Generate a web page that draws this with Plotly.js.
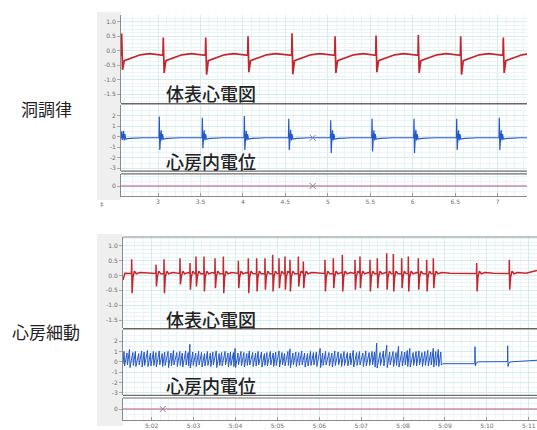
<!DOCTYPE html>
<html><head><meta charset="utf-8">
<script src="https://cdn.plot.ly/plotly-3.0.1.min.js"></script>
<style>html,body{margin:0;padding:0;background:#fff}#chart{width:537px;height:430px}</style>
</head><body><div id="chart"></div>
<script>
// ---------- Sinus rhythm (洞調律) ----------
const sinusTickVals = [3, 3.5, 4, 4.5, 5, 5.5, 6, 6.5, 7];
const sinusTickText = ['3', '3.5', '4', '4.5', '5', '5.5', '6', '6.5', '7'];
const sinusEcgTimes   = [2.572, 3.062, 3.562, 4.060, 4.578, 5.085, 5.568, 6.066, 6.565, 7.067];
const sinusEcgPeaks   = [0.60, 0.46, 0.46, 0.50, 0.61, 0.50, 0.53, 0.55, 0.50, 0.46];
const sinusEcgTroughs = [-0.66, -0.77, -0.83, -0.74, -0.81, -0.77, -0.74, -0.77, -0.83, -0.77];
const sinusIntraTimes   = [2.572, 3.015, 3.522, 4.017, 4.540, 5.034, 5.521, 6.015, 6.518, 7.020];
const sinusIntraPeaks   = [0.50, 1.90, 1.80, 1.95, 1.70, 1.55, 1.70, 1.70, 1.70, 1.80];
const sinusIntraTroughs = [-0.30, -1.25, -1.10, -1.25, -1.25, -1.55, -1.40, -1.55, -1.25, -1.25];
const sinusIntraSecond  = [0.55, 0.60, 0.60, 0.55, 0.65, 0.60, 0.60, 0.65, 0.60, 0.60];
const sinusMarkerX = [4.822];

// ---------- Atrial fibrillation (心房細動) ----------
const afTickVals = [302, 303, 304, 305, 306, 307, 308, 309, 310, 311];
const afTickText = ['5:02', '5:03', '5:04', '5:05', '5:06', '5:07', '5:08', '5:09', '5:10', '5:11'];
const afEcgTimes = [301.522, 302.103, 302.294, 302.675, 302.914, 303.057, 303.248, 303.511, 303.710,
  304.068, 304.306, 304.505, 304.704, 304.887, 305.038, 305.181, 305.301, 305.500, 305.619,
  306.136, 306.335, 306.550, 306.852, 306.971, 307.210, 307.385, 307.608, 307.767, 307.966,
  308.125, 308.363, 308.563, 308.722, 309.756, 310.535];
const afEcgPeaks = [0.55, 0.36, 0.55, 0.58, 0.42, 0.64, 0.64, 0.58, 0.64,
  0.50, 0.58, 0.58, 0.58, 0.70, 0.58, 0.64, 0.53, 0.64, 0.47,
  0.53, 0.58, 0.70, 0.53, 0.64, 0.53, 0.58, 0.75, 0.73, 0.58,
  0.64, 0.58, 0.53, 0.58, 0.42, 0.53];
const afEcgTroughs = [-0.60, -0.37, -0.60, -0.30, -0.48, -0.37, -0.54, -0.43, -0.60,
  -0.43, -0.60, -0.54, -0.48, -0.54, -0.43, -0.48, -0.54, -0.37, -0.43,
  -0.54, -0.43, -0.54, -0.48, -0.43, -0.54, -0.43, -0.48, -0.54, -0.43,
  -0.54, -0.48, -0.54, -0.43, -0.54, -0.48];
const afIntraTimes = [301.34, 301.41, 301.47, 301.55, 301.61, 301.69, 301.76, 301.82, 301.90, 301.97,
  302.04, 302.10, 302.18, 302.25, 302.31, 302.39, 302.46, 302.52, 302.60, 302.67,
  302.73, 302.81, 302.87, 302.91, 302.98, 303.05, 303.12, 303.19, 303.26, 303.33,
  303.40, 303.46, 303.54, 303.61, 303.67, 303.75, 303.82, 303.88, 303.95, 303.99,
  304.06, 304.13, 304.20, 304.27, 304.33, 304.41, 304.48, 304.54, 304.62, 304.69,
  304.75, 304.83, 304.90, 304.96, 305.04, 305.11, 305.17, 305.25, 305.30, 305.37,
  305.44, 305.51, 305.58, 305.65, 305.72, 305.79, 305.86, 305.93, 306.02, 306.08,
  306.15, 306.23, 306.30, 306.37, 306.45, 306.52, 306.59, 306.67, 306.74, 306.81,
  306.89, 306.96, 307.04, 307.11, 307.19, 307.26, 307.32, 307.37, 307.45, 307.53,
  307.61, 307.68, 307.76, 307.83, 307.89, 307.97, 308.04, 308.10, 308.16, 308.24,
  308.31, 308.38, 308.45, 308.52, 308.59, 308.66, 308.72, 308.78, 308.84, 308.90];
const afIntraTops = [1.00, 0.85, 1.20, 0.90, 1.00, 0.80, 1.05, 0.95, 1.10, 0.85,
  1.00, 0.90, 1.05, 0.80, 0.95, 1.00, 0.85, 1.10, 0.90, 1.00,
  0.85, 1.05, 0.90, 1.70, 0.95, 0.85, 1.00, 0.90, 0.80, 1.00,
  0.85, 0.95, 1.05, 0.80, 0.90, 1.00, 0.85, 0.95, 0.90, 1.30,
  0.85, 1.00, 0.90, 0.80, 1.05, 0.90, 0.85, 1.00, 0.95, 0.80,
  0.90, 1.00, 0.85, 0.95, 1.05, 0.90, 0.80, 1.00, 1.25, 0.85,
  0.95, 0.90, 1.05, 0.85, 0.80, 1.00, 0.90, 0.95, 1.30, 0.85,
  1.00, 0.90, 0.85, 1.05, 0.95, 0.80, 1.00, 0.90, 0.85, 1.10,
  0.90, 1.00, 0.85, 1.05, 0.90, 1.00, 0.95, 1.80, 0.90, 1.05,
  1.60, 0.95, 1.00, 0.90, 1.50, 1.00, 0.95, 1.10, 1.30, 0.90,
  1.00, 1.05, 0.90, 1.00, 1.10, 0.95, 1.30, 1.00, 1.20, 0.95];
const afIntraBottoms = [-0.40, -0.30, -0.55, -0.35, -0.45, -0.30, -0.50, -0.35, -0.45, -0.40,
  -0.35, -0.50, -0.30, -0.45, -0.35, -0.55, -0.40, -0.30, -0.45, -0.35,
  -0.50, -0.30, -0.40, -0.60, -0.35, -0.45, -0.30, -0.50, -0.40, -0.35,
  -0.45, -0.30, -0.55, -0.35, -0.40, -0.30, -0.50, -0.35, -0.45, -0.55,
  -0.30, -0.40, -0.50, -0.35, -0.30, -0.45, -0.40, -0.30, -0.50, -0.35,
  -0.40, -0.30, -0.45, -0.35, -0.50, -0.30, -0.40, -0.35, -0.55, -0.30,
  -0.45, -0.35, -0.30, -0.50, -0.40, -0.35, -0.30, -0.45, -0.55, -0.35,
  -0.30, -0.40, -0.50, -0.35, -0.30, -0.45, -0.35, -0.40, -0.30, -0.50,
  -0.35, -0.30, -0.45, -0.40, -0.35, -0.30, -0.50, -0.60, -0.35, -0.40,
  -0.55, -0.30, -0.45, -0.35, -0.50, -0.40, -0.30, -0.45, -0.50, -0.35,
  -0.40, -0.30, -0.45, -0.35, -0.40, -0.30, -0.50, -0.35, -0.45, -0.30];
const afIsolatedTimes = [309.716, 310.496];
const afIsolatedPeaks = [1.45, 1.55];
const afIsolatedTroughs = [-0.40, -0.45];
const afMarkerX = [302.263];

// ---------- layout helpers (pixel placement) ----------
const W = 537, H = 430;
const px = v => v / W;
const py = v => 1 - v / H;
const sinusRange = [2.564, 7.346];
const afRange = [301.315, 311.196];

// ---------- build traces ----------
function sinusEcg() {
  const x = [sinusRange[0]], y = [-0.16];
  sinusEcgTimes.forEach((t, i) => {
    const next = i + 1 < sinusEcgTimes.length ? sinusEcgTimes[i + 1] : sinusRange[1] + 0.5;
    if (t - 0.004 > x[x.length - 1]) { x.push(t - 0.004); y.push(-0.16); }
    x.push(t); y.push(sinusEcgPeaks[i]);
    x.push(t + 0.010); y.push(sinusEcgTroughs[i]);
    [[0.03, -0.34], [0.10, -0.26], [0.22, -0.14], [0.33, -0.1], [0.45, -0.15]].forEach(([dt, v]) => {
      if (t + dt < next - 0.01) { x.push(t + dt); y.push(v); }
    });
  });
  return { x, y };
}
function sinusIntra() {
  const x = [sinusRange[0]], y = [-0.1];
  sinusIntraTimes.forEach((t, i) => {
    if (t - 0.004 > x[x.length - 1]) { x.push(t - 0.004); y.push(-0.1); }
    x.push(t); y.push(sinusIntraPeaks[i]);
    x.push(t + 0.006); y.push(sinusIntraTroughs[i]);
    x.push(t + 0.014); y.push(-0.1);
    x.push(t + 0.022); y.push(sinusIntraSecond[i]);
    x.push(t + 0.030); y.push(-0.35);
    x.push(t + 0.038); y.push(0.25);
    x.push(t + 0.048); y.push(-0.22);
    x.push(t + 0.09); y.push(-0.16);
    x.push(t + 0.25); y.push(-0.1);
  });
  x.push(sinusRange[1]); y.push(-0.1);
  return { x, y };
}
function afEcg() {
  const x = [afRange[0]], y = [-0.15];
  x.push(301.36); y.push(0.08);
  afEcgTimes.forEach((t, i) => {
    const next = i + 1 < afEcgTimes.length ? afEcgTimes[i + 1] : afRange[1] + 0.5;
    if (t - 0.004 > x[x.length - 1]) { x.push(t - 0.004); y.push(0.07); }
    x.push(t); y.push(afEcgPeaks[i]);
    x.push(t + 0.010); y.push(afEcgTroughs[i]);
    [[0.03, -0.06], [0.065, 0.15], [0.11, 0.06], [0.2, 0.1], [0.4, 0.08]].forEach(([dt, v]) => {
      if (t + dt < next - 0.01) { x.push(t + dt); y.push(v); }
    });
  });
  x.push(afRange[1]); y.push(0.17);
  return { x, y };
}
function afIntra() {
  const x = [afRange[0]], y = [-0.2];
  afIntraTimes.forEach((t, i) => {
    x.push(t); y.push(afIntraTops[i]);
    x.push(t + 0.012); y.push(afIntraBottoms[i]);
  });
  x.push(308.95); y.push(-0.18);
  afIsolatedTimes.forEach((t, i) => {
    x.push(t - 0.004); y.push(i === 0 ? -0.18 : 0.02);
    x.push(t); y.push(afIsolatedPeaks[i]);
    x.push(t + 0.008); y.push(afIsolatedTroughs[i]);
    x.push(t + 0.03); y.push(-0.1);
    x.push(t + 0.08); y.push(0.0);
  });
  x.push(afRange[1]); y.push(0.15);
  return { x, y };
}

const red = '#c3262c', blue = '#2457c8', pink = '#b85585', mk = '#8c7f9c';
const s1 = sinusEcg(), s2 = sinusIntra(), a1 = afEcg(), a2 = afIntra();
const data = [
  { x: s1.x, y: s1.y, xaxis: 'x', yaxis: 'y', mode: 'lines', line: { color: red, width: 1.7 }, hoverinfo: 'skip' },
  { x: s2.x, y: s2.y, xaxis: 'x', yaxis: 'y2', mode: 'lines', line: { color: blue, width: 1.2 }, hoverinfo: 'skip' },
  { x: sinusRange, y: [0, 0], xaxis: 'x', yaxis: 'y3', mode: 'lines', line: { color: pink, width: 1 }, hoverinfo: 'skip' },
  { x: sinusMarkerX, y: [-0.1], xaxis: 'x', yaxis: 'y2', mode: 'markers', marker: { symbol: 'x-thin', size: 6, line: { color: mk, width: 1 } } },
  { x: sinusMarkerX, y: [0], xaxis: 'x', yaxis: 'y3', mode: 'markers', marker: { symbol: 'x-thin', size: 6, line: { color: mk, width: 1 } } },
  { x: a1.x, y: a1.y, xaxis: 'x2', yaxis: 'y4', mode: 'lines', line: { color: red, width: 1.5 }, hoverinfo: 'skip' },
  { x: a2.x, y: a2.y, xaxis: 'x2', yaxis: 'y5', mode: 'lines', line: { color: blue, width: 1 }, hoverinfo: 'skip' },
  { x: afRange, y: [0, 0], xaxis: 'x2', yaxis: 'y6', mode: 'lines', line: { color: pink, width: 1 }, hoverinfo: 'skip' },
  { x: afMarkerX, y: [0], xaxis: 'x2', yaxis: 'y6', mode: 'markers', marker: { symbol: 'x-thin', size: 6, line: { color: mk, width: 1 } } }
];

const gridMajor = '#d8ecf0', gridMinor = '#eaf5f7';
const tickFont = { family: 'DejaVu Sans, sans-serif', size: 6, color: '#6e6e6e' };
function yax(dom, range, vals, text, minorDt, anchor) {
  return {
    domain: [py(dom[1]), py(dom[0])], range, anchor, tickvals: vals, ticktext: text,
    tickfont: tickFont, ticks: 'outside', ticklen: 3, tickcolor: '#aaa',
    showgrid: true, gridcolor: gridMajor, gridwidth: 1, zeroline: false,
    minor: { dtick: minorDt, showgrid: true, gridcolor: gridMinor, ticks: '' },
    showline: true, linecolor: '#8a8a8a', linewidth: 1, fixedrange: true
  };
}
function xax(dom, range, vals, text, minorDt, anchor) {
  return {
    domain: [px(dom[0]), px(dom[1])], range, anchor, tickvals: vals, ticktext: text,
    tickfont: tickFont, ticks: 'inside', ticklen: 3, tickcolor: '#999',
    showgrid: true, gridcolor: gridMajor, zeroline: false,
    minor: { dtick: minorDt, showgrid: true, gridcolor: gridMinor, ticks: '' },
    showline: true, linecolor: '#8a8a8a', linewidth: 1, fixedrange: true
  };
}

const cjk = 'Noto Sans CJK JP, sans-serif';
function ann(text, x, y, size, weight) {
  return { text, x: px(x), y: py(y), xref: 'paper', yref: 'paper', showarrow: false,
    xanchor: 'center', yanchor: 'middle', font: { family: cjk, size, color: '#222', weight } };
}
function hline(y, x0, x1, color, width) {
  return { type: 'line', xref: 'paper', yref: 'paper', x0: px(x0), x1: px(x1), y0: py(y), y1: py(y), line: { color, width } };
}

const layout = {
  width: W, height: H, margin: { l: 0, r: 0, t: 0, b: 0 },
  paper_bgcolor: '#fff', plot_bgcolor: '#fff', showlegend: false,
  xaxis: xax([121, 527], sinusRange, sinusTickVals, sinusTickText, 0.1, 'y3'),
  yaxis: yax([15, 103], [-1.81, 1.24], [-1.5, -1, -0.5, 0, 0.5, 1], ['-1.5', '-1.0', '-0.5', '0.0', '0.5', '1.0'], 0.125, 'x'),
  yaxis2: yax([105, 171], [-3.25, 3.0], [-3, -2, -1, 0, 1, 2], ['-3', '-2', '-1', '0', '1', '2'], 0.5, 'x'),
  yaxis3: yax([174, 196], [-1, 1.2], [0], ['0'], 0.5, 'x'),
  xaxis2: xax([123, 537], afRange, afTickVals, afTickText, 0.2, 'y6'),
  yaxis4: yax([237, 328], [-1.77, 1.30], [-1.5, -1, -0.5, 0, 0.5, 1], ['-1.5', '-1.0', '-0.5', '0.0', '0.5', '1.0'], 0.125, 'x2'),
  yaxis5: yax([330, 395], [-3.2, 3.07], [-3, -2, -1, 0, 1, 2], ['-3', '-2', '-1', '0', '1', '2'], 0.5, 'x2'),
  yaxis6: yax([398, 420], [-1, 1], [0], ['0'], 0.5, 'x2'),
  shapes: [
    { type: 'rect', xref: 'paper', yref: 'paper', x0: px(97), x1: px(121), y0: py(200), y1: py(12), fillcolor: '#efefef', line: { width: 0 }, layer: 'below' },
    { type: 'rect', xref: 'paper', yref: 'paper', x0: px(97), x1: px(123), y0: py(426), y1: py(234), fillcolor: '#efefef', line: { width: 0 }, layer: 'below' },
    hline(103.8, 121, 527, '#666', 1.6),
    hline(171.2, 121, 527, '#6e6e6e', 1.2),
    hline(173.8, 121, 527, '#6e6e6e', 1.2),
    hline(237, 123, 537, '#8a8a8a', 1),
    hline(328.8, 123, 537, '#666', 1.6),
    hline(395.4, 123, 537, '#6e6e6e', 1.2),
    hline(398, 123, 537, '#6e6e6e', 1.2)
  ],
  annotations: [
    ann('洞調律', 46, 108, 17, 400),
    ann('心房細動', 45.5, 331.5, 17, 400),
    ann('体表心電図', 211, 93, 18, 500),
    ann('心房内電位', 211, 161.5, 18, 500),
    ann('体表心電図', 211, 318.5, 18, 500),
    ann('心房内電位', 211, 385, 18, 500),
    { text: '‡', x: px(98), y: py(204), xref: 'paper', yref: 'paper', showarrow: false, font: { size: 7, color: '#555' } }
  ]
};

Plotly.newPlot('chart', data, layout, { staticPlot: true, displayModeBar: false });
</script></body></html>
